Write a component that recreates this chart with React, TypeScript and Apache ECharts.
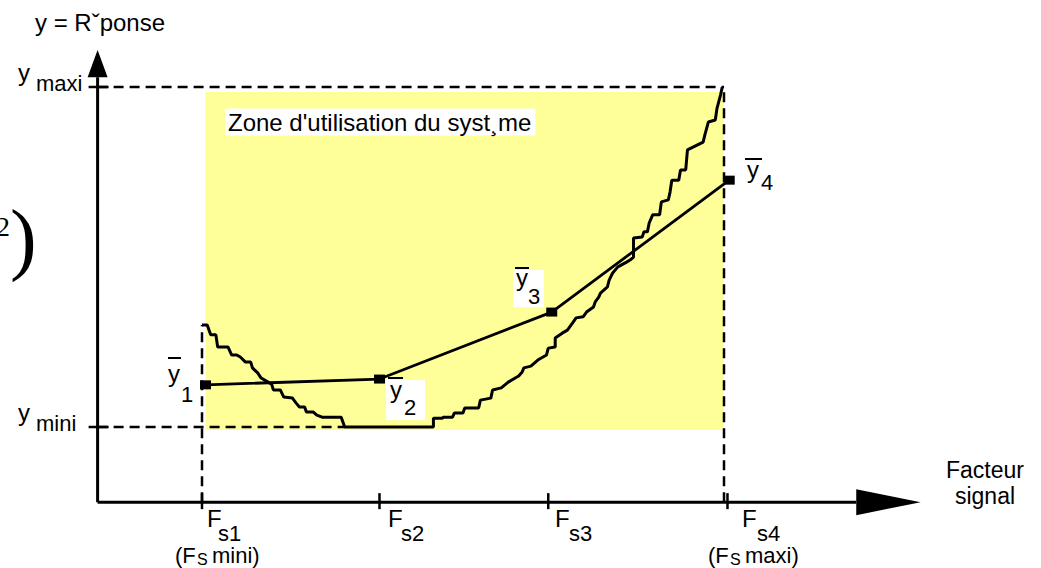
import { useEffect, useRef } from "react";
import * as echarts from "echarts";

// ---- data (x in "signal factor level" units, y in response units: y mini = 0, y maxi = 100)
const fsTicks = [1, 2.02, 2.99, 4.02];
const fsSubs = ["s1", "s2", "s3", "s4"];
const yMini = 0;
const yMaxi = 100;
const meanX = [1.02, 2.02, 3.01, 4.03];
const meanY = [12.4, 14.1, 33.8, 72.6];
const curveX = [
  1.0, 1.03, 1.05, 1.08, 1.09, 1.15, 1.17, 1.2, 1.22, 1.25, 1.28, 1.29, 1.32, 1.34, 1.38, 1.4, 1.41, 1.45,
  1.47, 1.52, 1.54, 1.56, 1.59, 1.6, 1.64, 1.66, 1.69, 1.8, 1.82, 2.33, 2.33, 2.38, 2.39, 2.44, 2.45, 2.5,
  2.51, 2.59, 2.6, 2.66, 2.67, 2.72, 2.76, 2.8, 2.82, 2.84, 2.85, 2.89, 2.93, 2.98, 2.99, 3.03, 3.03, 3.07,
  3.1, 3.13, 3.15, 3.19, 3.21, 3.25, 3.26, 3.28, 3.29, 3.33, 3.34, 3.36, 3.39, 3.44, 3.46, 3.48, 3.48, 3.53,
  3.54, 3.56, 3.57, 3.59, 3.63, 3.64, 3.68, 3.69, 3.7, 3.74, 3.75, 3.78, 3.79, 3.88, 3.89, 3.91, 3.95, 3.96,
  3.98, 3.99,
];
const curveY = [
  30.0, 30.0, 27.1, 27.1, 23.5, 23.5, 21.2, 21.2, 20.6, 19.1, 19.1, 17.4, 15.9, 14.4, 13.2, 12.6, 10.9, 10.9,
  8.8, 8.5, 7.1, 5.9, 5.9, 4.4, 4.4, 3.5, 2.9, 2.9, 0, 0, 2.6, 2.6, 2.9, 2.9, 4.1, 4.1,
  5.6, 5.6, 7.9, 8.5, 10.9, 11.5, 13.2, 14.4, 15.0, 16.2, 17.4, 17.9, 19.7, 21.2, 23.2, 23.5, 26.2, 27.6,
  28.5, 30.6, 32.1, 32.4, 33.8, 35.3, 36.8, 38.2, 39.4, 41.2, 43.2, 45.3, 47.1, 48.5, 49.1, 50.0, 55.6, 55.9,
  57.4, 57.4, 60.0, 62.4, 62.4, 66.2, 66.8, 69.1, 72.6, 72.6, 75.6, 75.6, 81.5, 83.8, 85.9, 89.7, 90.3, 93.8,
  97.6, 100,
];
const zoneX = [1.02, 4.0];
const zoneY = [-0.9, 98.5];
const originX = 0.4;
const originY = -22.1;
const xArrow = [4.76, 5.13]; // base, tip
const yArrow = [102.9, 110.9]; // base, tip
const fs1Top = 30;
const flatStart = 1.82;
const fsLine = 4.0;

const FONT = '"Liberation Sans", Arial, Helvetica, sans-serif';
const SERIF = '"Liberation Serif", "Times New Roman", serif';

function txt(text: string, x: number, y: number, size: number, extra: any = {}) {
  return {
    type: "text",
    x,
    y,
    z: 100,
    style: {
      text,
      font: `${size}px ${extra.family || FONT}`,
      fill: "#000",
      align: extra.align || "left",
      verticalAlign: "middle",
      ...(extra.bg ? { backgroundColor: extra.bg, padding: extra.pad || 0 } : {}),
    },
  };
}
function bar(x1: number, x2: number, y: number) {
  return { type: "line", z: 100, shape: { x1, y1: y, x2, y2: y }, style: { stroke: "#000", lineWidth: 2 } };
}
function whiteBox(x: number, y: number, w: number, h: number) {
  return { type: "rect", z: 99, shape: { x, y, width: w, height: h }, style: { fill: "#fff" } };
}

export default function App() {
  const ref = useRef<HTMLDivElement>(null);
  useEffect(() => {
    if (!ref.current) return;
    const chart = echarts.init(ref.current, undefined, { renderer: "svg" });
    const dashed = { color: "#000", width: 2.5, type: [10, 6] as any };
    const solid = { color: "#000", width: 3 };
    const seg = (pts: number[][], style: any, z = 3) => ({
      type: "line",
      data: pts,
      showSymbol: false,
      symbol: "none",
      lineStyle: style,
      z,
      silent: true,
    });
    const fsLeftF = [207, 388, 555, 742];
    const fsLeftS = [218, 401, 569, 757];
    const graphic: any[] = [
      txt("y = Rˇponse", 35, 22, 24),
      txt("y", 18, 72, 24),
      txt("maxi", 36, 83, 22),
      txt("y", 18, 412, 24),
      txt("mini", 36, 423, 22),
      txt("Zone d'utilisation du syst¸me", 225, 122, 24, { bg: "#fff", pad: [2, 4, 1, 3] }),
      txt("Facteur", 985, 470, 23, { align: "center" }),
      txt("signal", 985, 496, 23, { align: "center" }),
      txt("2", -4, 226, 28, { family: SERIF }),
      txt(")", 10, 238, 80, { family: SERIF }),
      txt("(F", 175, 555, 22),
      txt("S", 197, 559, 16),
      txt("mini)", 212, 555, 22),
      txt("(F", 708, 555, 22),
      txt("S", 730, 559, 16),
      txt("maxi)", 745, 555, 22),
      // mean labels
      bar(168, 181, 358),
      txt("y", 168, 373, 24),
      txt("1", 181, 394, 22),
      whiteBox(386, 380, 39, 40),
      bar(388, 403, 378),
      txt("y", 390, 389, 24),
      txt("2", 404, 407, 22),
      whiteBox(513, 270, 31, 37),
      bar(515, 529, 268),
      txt("y", 516, 277, 24),
      txt("3", 528, 296, 22),
      bar(745, 762, 159),
      txt("y", 747, 169, 24),
      txt("4", 761, 182, 22),
    ];
    fsSubs.forEach((s, i) => {
      graphic.push(txt("F", fsLeftF[i], 518, 24));
      graphic.push(txt(s, fsLeftS[i], 533, 22));
    });
    const arrowHalf = [13, 10];
    chart.setOption({
      animation: false,
      grid: { left: 0, right: 0, top: 0, bottom: 0, containLabel: false },
      xAxis: { type: "value", min: 1 - 202 / 174, max: 1 + 839 / 174, show: false },
      yAxis: { type: "value", min: (427 - 568) / 3.4, max: 427 / 3.4, show: false },
      series: [
        {
          type: "line",
          data: [],
          silent: true,
          z: 1,
          markArea: {
            silent: true,
            itemStyle: { color: "#FFFF99" },
            data: [[{ coord: [zoneX[0], zoneY[0]] }, { coord: [zoneX[1], zoneY[1]] }]],
          },
        },
        seg([[originX, yMaxi], [fsLine, yMaxi]], dashed),
        seg([[originX, yMini], [flatStart, yMini]], dashed),
        seg([[fsTicks[0], originY], [fsTicks[0], fs1Top]], dashed),
        seg([[fsLine, originY], [fsLine, yMaxi]], dashed),
        seg([[originX, originY], [xArrow[0], originY]], solid, 5),
        seg([[originX, originY], [originX, yArrow[0]]], solid, 5),
        {
          type: "line",
          data: curveX.map((x, i) => [x, curveY[i]]),
          showSymbol: false,
          symbol: "none",
          lineStyle: { color: "#000", width: 3 },
          z: 6,
        },
        {
          type: "line",
          data: meanX.map((x, i) => [x, meanY[i]]),
          symbol: "rect",
          symbolSize: [11, 9],
          showSymbol: true,
          itemStyle: { color: "#000" },
          lineStyle: { color: "#000", width: 2.8 },
          z: 7,
        },
        {
          type: "custom",
          coordinateSystem: "cartesian2d",
          z: 8,
          data: [
            [xArrow[1], originY, xArrow[0], originY],
            [originX, yArrow[1], originX, yArrow[0]],
          ],
          renderItem: (params: any, api: any) => {
            const tip = api.coord([api.value(0), api.value(1)]);
            const base = api.coord([api.value(2), api.value(3)]);
            const hw = arrowHalf[params.dataIndex];
            const dx = tip[0] - base[0];
            const dy = tip[1] - base[1];
            const len = Math.hypot(dx, dy) || 1;
            const nx = (-dy / len) * hw;
            const ny = (dx / len) * hw;
            return {
              type: "polygon",
              shape: { points: [tip, [base[0] + nx, base[1] + ny], [base[0] - nx, base[1] - ny]] },
              style: { fill: "#000" },
            };
          },
        },
        {
          type: "custom",
          coordinateSystem: "cartesian2d",
          z: 8,
          data: fsTicks.map((v) => [v, originY]),
          renderItem: (_p: any, api: any) => {
            const c = api.coord([api.value(0), api.value(1)]);
            return {
              type: "line",
              shape: { x1: c[0], y1: c[1] - 9, x2: c[0], y2: c[1] + 7 },
              style: { stroke: "#000", lineWidth: 2.5 },
            };
          },
        },
        {
          type: "custom",
          coordinateSystem: "cartesian2d",
          z: 8,
          data: [[originX, yMaxi], [originX, yMini]],
          renderItem: (_p: any, api: any) => {
            const c = api.coord([api.value(0), api.value(1)]);
            return {
              type: "line",
              shape: { x1: c[0] - 9, y1: c[1], x2: c[0] + 11, y2: c[1] },
              style: { stroke: "#000", lineWidth: 2.5 },
            };
          },
        },
      ],
      graphic,
    });
    return () => chart.dispose();
  }, []);
  return (
    <div
      ref={ref}
      style={{ position: "absolute", left: 0, top: 0, width: 1041, height: 568, background: "#fff" }}
    />
  );
}
